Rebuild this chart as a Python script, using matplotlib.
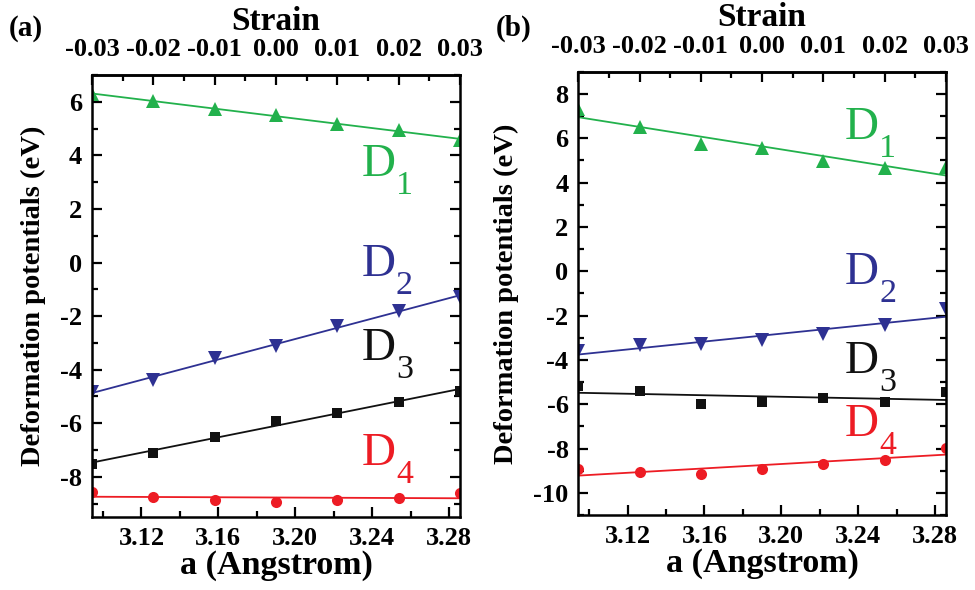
import numpy as np
import matplotlib
matplotlib.use("Agg")
import matplotlib.pyplot as plt

plt.rcParams['font.family'] = ['Liberation Serif', 'DejaVu Serif']
plt.rcParams['axes.unicode_minus'] = False

# Lattice constant and applied biaxial strain
a0 = 3.19
strain = [-0.03, -0.02, -0.01, 0.00, 0.01, 0.02, 0.03]
strain_ticks = [-0.03, -0.02, -0.01, 0.00, 0.01, 0.02, 0.03]
a_ticks = [3.12, 3.16, 3.20, 3.24, 3.28]

# Deformation potentials (eV), panel (a)
a_D1 = [6.30, 6.02, 5.75, 5.50, 5.17, 4.95, 4.57]
a_D2 = [-4.82, -4.40, -3.56, -3.10, -2.36, -1.79, -1.28]
a_D3 = [-7.52, -7.10, -6.50, -5.90, -5.61, -5.21, -4.80]
a_D4 = [-8.57, -8.74, -8.86, -8.95, -8.86, -8.80, -8.62]

# Deformation potentials (eV), panel (b)
b_D1 = [7.30, 6.50, 5.75, 5.55, 4.97, 4.65, 4.70]
b_D2 = [-3.62, -3.34, -3.28, -3.12, -2.84, -2.43, -1.72]
b_D3 = [-5.20, -5.40, -5.97, -5.90, -5.71, -5.90, -5.46]
b_D4 = [-8.93, -9.07, -9.15, -8.91, -8.68, -8.52, -7.98]

green = '#22b14c'
blue = '#2e3192'
black = '#111111'
red = '#ed1c24'

series_style = [
    ('1', green, '^', 9.5),
    ('2', blue, 'v', 9.5),
    ('3', black, 's', 7.0),
    ('4', red, 'o', 8.0),
]

a_vals = a0 * (1 + np.array(strain))
xlim = (a0 * 0.97, a0 * 1.03)

fig = plt.figure(figsize=(9.75, 5.9), dpi=100)
ax_a = fig.add_axes([0.0944, 0.1237, 0.3774, 0.7490])
ax_b = fig.add_axes([0.5931, 0.1271, 0.3771, 0.7514])

TICK_FS = 19


def draw_panel(ax, data, ylim, yticks, label_pos, tag):
    for (sub, col, mk, ms), y, (lx, ly) in zip(series_style, data, label_pos):
        y = np.array(y)
        ax.plot(a_vals, y, linestyle='none', marker=mk, ms=ms, color=col,
                markeredgewidth=0)
        # least-squares linear fit through the seven strain points
        k, b = np.polyfit(a_vals, y, 1)
        xx = np.array(xlim)
        ax.plot(xx, k * xx + b, color=col, lw=1.3)
        ax.text(lx, ly, 'D', color=col, fontsize=34, ha='left', va='baseline')
        ax.annotate(sub, xy=(lx, ly), xytext=(25, -13),
                    textcoords='offset points', color=col, fontsize=24.5,
                    ha='left', va='baseline')

    ax.set_xlim(*xlim)
    ax.set_ylim(*ylim)
    ax.set_xticks(a_ticks)
    ax.set_xticks(np.arange(3.10, 3.29, 0.02), minor=True)
    ax.set_xticklabels(['%.2f' % t for t in a_ticks])
    ax.set_yticks(yticks)
    ax.set_yticks(np.arange(yticks[0] - 1, yticks[-1] + 1.5, 1), minor=True)
    ax.set_yticklabels(['%d' % t for t in yticks])
    ax.tick_params(which='both', direction='in', right=True, width=1.6,
                   labelsize=TICK_FS, pad=7)
    ax.tick_params(which='major', length=7)
    ax.tick_params(which='minor', length=4)
    for lab in ax.get_xticklabels() + ax.get_yticklabels():
        lab.set_fontweight('bold')
    for sp in ax.spines.values():
        sp.set_linewidth(1.8)
    ax.set_xlabel('a (Angstrom)', fontsize=24.5, fontweight='bold', labelpad=0)
    ax.set_ylabel('Deformation potentials (eV)', fontsize=20.5,
                  fontweight='bold', labelpad=10)

    sec = ax.secondary_xaxis('top', functions=(lambda x: x / a0 - 1,
                                               lambda s: a0 * (1 + s)))
    sec.set_xticks(strain_ticks)
    sec.set_xticks(np.arange(-0.035, 0.036, 0.005), minor=True)
    sec.set_xticklabels(['%.2f' % s for s in strain_ticks])
    sec.tick_params(which='both', direction='in', width=1.6,
                    labelsize=TICK_FS, pad=10)
    sec.tick_params(which='major', length=7)
    sec.tick_params(which='minor', length=4)
    for lab in sec.get_xticklabels():
        lab.set_fontweight('bold')
    sec.spines['top'].set_linewidth(1.8)
    sec.set_xlabel('Strain', fontsize=24, fontweight='bold', labelpad=6)

    fig.text(ax.get_position().x0 - 0.085, 0.952, tag, fontsize=21,
             fontweight='bold', va='center', ha='left')


draw_panel(ax_a, [a_D1, a_D2, a_D3, a_D4], (-9.5, 7.0), list(range(-8, 7, 2)),
           [(3.2343, 3.25), (3.2343, -0.50), (3.2343, -3.65), (3.2343, -7.55)],
           '(a)')
draw_panel(ax_b, [b_D1, b_D2, b_D3, b_D4], (-10.0, 8.0), list(range(-10, 9, 2)),
           [(3.2328, 5.97), (3.2328, -0.56), (3.2328, -4.59), (3.2328, -7.42)],
           '(b)')

fig.savefig('out.png', dpi=100)
